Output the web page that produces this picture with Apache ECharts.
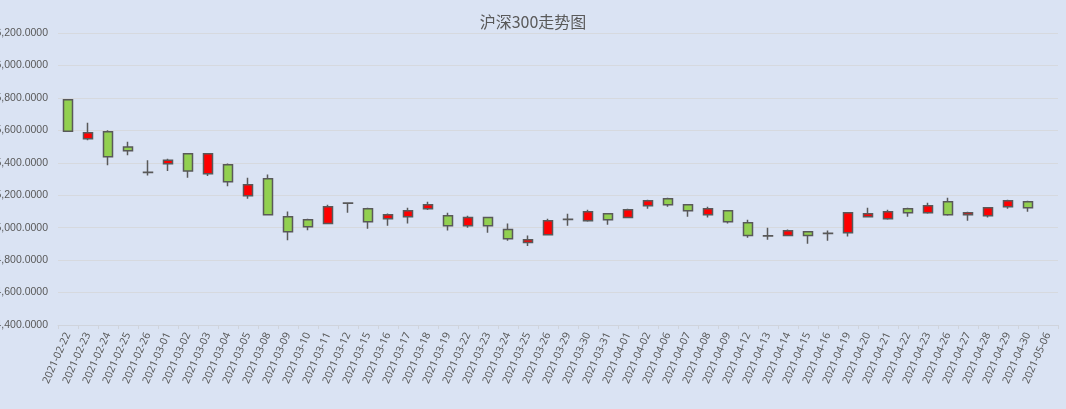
<!DOCTYPE html>
<html>
<head>
<meta charset="utf-8">
<title>沪深300走势图</title>
<script src="https://cdn.jsdelivr.net/npm/echarts@6/dist/echarts.min.js"></script>
<style>
  html, body { margin: 0; padding: 0; background: #dae3f3; }
  #chart { width: 1066px; height: 409px; }
</style>
</head>
<body>
<div id="chart"></div>
<script>
// 日期
var dates = [
  "2021-02-22", "2021-02-23", "2021-02-24", "2021-02-25", "2021-02-26",
  "2021-03-01", "2021-03-02", "2021-03-03", "2021-03-04", "2021-03-05",
  "2021-03-08", "2021-03-09", "2021-03-10", "2021-03-11", "2021-03-12",
  "2021-03-15", "2021-03-16", "2021-03-17", "2021-03-18", "2021-03-19",
  "2021-03-22", "2021-03-23", "2021-03-24", "2021-03-25", "2021-03-26",
  "2021-03-29", "2021-03-30", "2021-03-31", "2021-04-01", "2021-04-02",
  "2021-04-06", "2021-04-07", "2021-04-08", "2021-04-09", "2021-04-12",
  "2021-04-13", "2021-04-14", "2021-04-15", "2021-04-16", "2021-04-19",
  "2021-04-20", "2021-04-21", "2021-04-22", "2021-04-23", "2021-04-26",
  "2021-04-27", "2021-04-28", "2021-04-29", "2021-04-30", "2021-05-06"
];
// 开盘 收盘 最低 最高 (05-06 无数据)
var openPrice = [5788, 5548, 5591, 5498, 5342, 5394, 5455, 5332, 5388, 5197,
  5301, 5068, 5049, 5025, 5152, 5117, 5055, 5068, 5117, 5074,
  5012, 5062, 4988, 4908, 4957, 5050, 5043, 5086, 5062, 5135,
  5178, 5141, 5080, 5105, 5031, 4950, 4951, 4975, 4966, 4969,
  5068, 5055, 5117, 5092, 5160, 5080, 5074, 5129, 5160, null];
var closePrice = [5595, 5585, 5437, 5474, 5340, 5416, 5349, 5455, 5283, 5265,
  5080, 4975, 5006, 5129, 5150, 5037, 5080, 5105, 5141, 5012,
  5062, 5012, 4932, 4926, 5043, 5052, 5098, 5049, 5111, 5166,
  5142, 5105, 5117, 5037, 4951, 4948, 4981, 4951, 4964, 5092,
  5086, 5098, 5092, 5135, 5080, 5092, 5123, 5166, 5123, null];
var lowPrice = [5593, 5539, 5384, 5447, 5322, 5349, 5308, 5318, 5256, 5178,
  5078, 4922, 4984, 5022, 5092, 4994, 5012, 5025, 5109, 4982,
  5000, 4969, 4920, 4887, 4951, 5012, 5037, 5018, 5060, 5117,
  5129, 5068, 5062, 5025, 4938, 4926, 4948, 4901, 4920, 4945,
  5062, 5049, 5068, 5086, 5074, 5043, 5062, 5117, 5098, null];
var highPrice = [5790, 5646, 5601, 5529, 5416, 5425, 5456, 5456, 5396, 5308,
  5328, 5100, 5055, 5141, 5153, 5123, 5088, 5123, 5160, 5092,
  5074, 5068, 5025, 4951, 5055, 5086, 5111, 5087, 5117, 5172,
  5185, 5143, 5129, 5106, 5049, 5000, 4988, 4976, 4982, 5093,
  5123, 5111, 5123, 5154, 5185, 5098, 5124, 5172, 5166, null];
// y轴刻度
var yMin = 4400, yMax = 6200, yStep = 200;

var kData = [];
for (var i = 0; i < dates.length; i++) {
  if (openPrice[i] === null) {
    kData.push('-');
  } else {
    kData.push([openPrice[i], closePrice[i], lowPrice[i], highPrice[i]]);
  }
}

var myChart = echarts.init(document.getElementById('chart'));
var option = {
  backgroundColor: '#dae3f3',
  animation: false,
  title: {
    text: '沪深300走势图',
    left: 'center',
    top: 9,
    textStyle: {
      color: '#595959',
      fontSize: 16,
      fontWeight: 'normal',
      fontFamily: 'Noto Sans CJK SC'
    }
  },
  grid: {
    left: 58,
    right: 8,
    top: 33,
    bottom: 84,
    containLabel: false,
    outerBoundsMode: 'none'
  },
  xAxis: {
    type: 'category',
    data: dates,
    boundaryGap: true,
    axisLine: { lineStyle: { color: '#d0d4dc', width: 1 } },
    axisTick: { show: true, length: 4, lineStyle: { color: '#d0d4dc' } },
    axisLabel: {
      interval: 0,
      rotate: 66,
      margin: 8,
      color: '#595959',
      fontSize: 10.5,
      fontFamily: 'Noto Sans'
    },
    splitLine: { show: false }
  },
  yAxis: {
    type: 'value',
    min: yMin,
    max: yMax,
    interval: yStep,
    axisLine: { show: false },
    axisTick: { show: false },
    axisLabel: {
      margin: 10,
      color: '#595959',
      fontSize: 10.5,
      fontFamily: 'Liberation Sans',
      formatter: function (v) {
        return v.toLocaleString('en-US', { minimumFractionDigits: 4, maximumFractionDigits: 4 });
      }
    },
    splitLine: { lineStyle: { color: '#d6d9de', width: 1 } }
  },
  series: [{
    type: 'candlestick',
    data: kData,
    barWidth: 9,
    itemStyle: {
      color: '#ff0000',
      color0: '#92d050',
      borderColor: '#595959',
      borderColor0: '#595959',
      borderWidth: 1.5
    }
  }]
};
myChart.setOption(option);
</script>
</body>
</html>
